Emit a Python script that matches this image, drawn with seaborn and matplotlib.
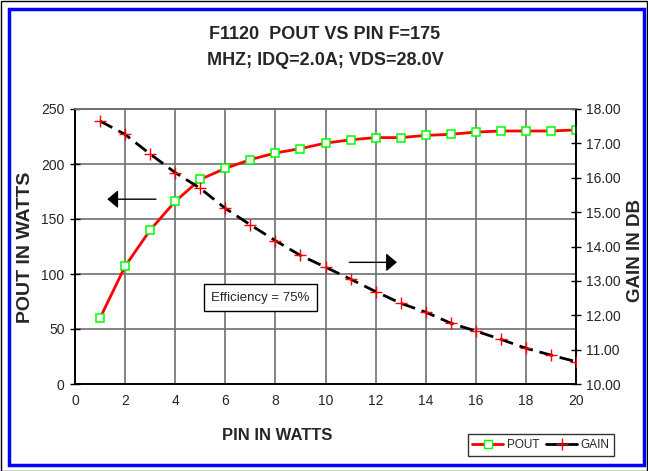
import matplotlib
matplotlib.use("Agg")
import matplotlib.pyplot as plt
from matplotlib.patches import Rectangle
from matplotlib.lines import Line2D
import seaborn as sns
import pandas as pd

# ---- data ----
pin = [1, 2, 3, 4, 5, 6, 7, 8, 9, 10, 11, 12, 13, 14, 15, 16, 17, 18, 19, 20]
pout = [60, 107, 140, 166, 186, 196, 204, 210, 214, 219, 222, 224, 224, 226,
        227, 229, 230, 230, 230, 231]
gain = [17.65, 17.26, 16.69, 16.15, 15.69, 15.11, 14.63, 14.17, 13.74, 13.40,
        13.05, 12.69, 12.35, 12.09, 11.77, 11.54, 11.30, 11.04, 10.84, 10.65]
x_ticks = [0, 2, 4, 6, 8, 10, 12, 14, 16, 18, 20]
left_ticks = [0, 50, 100, 150, 200, 250]
right_ticks = [10, 11, 12, 13, 14, 15, 16, 17, 18]
title_text = "F1120  POUT VS PIN F=175\nMHZ; IDQ=2.0A; VDS=28.0V"
note_text = "Efficiency = 75%"

df = pd.DataFrame({"PIN": pin, "POUT": pout, "GAIN": gain})

sns.set_style("white")
plt.rcParams["font.family"] = ["Liberation Sans", "DejaVu Sans"]

W, H = 648, 471
fig = plt.figure(figsize=(W / 100, H / 100), dpi=100)
ax = fig.add_axes([75 / W, 1 - 384 / H, 501 / W, 275 / H])
ax2 = ax.twinx()

# borders
fig.patches.append(Rectangle((0.5 / W, 0.5 / H), 1 - 1.5 / W, 1 - 1.5 / H,
                             transform=fig.transFigure, fill=False,
                             ec="black", lw=1, zorder=0))
fig.patches.append(Rectangle((8.5 / W, 1 - 464.5 / H), (643.5 - 8.5) / W, (464.5 - 8.5) / H,
                             transform=fig.transFigure, fill=False,
                             ec="#0000FF", lw=2.5, zorder=0))

# series
sns.lineplot(data=df, x="PIN", y="POUT", ax=ax, color="#FF0000", lw=2,
             marker="s", markersize=6, markerfacecolor="white",
             markeredgecolor="#00FF00", markeredgewidth=1.1, zorder=4)
sns.lineplot(data=df, x="PIN", y="GAIN", ax=ax2, color="black", lw=2,
             linestyle=(0, (5, 2.5)), marker="+", markersize=8,
             markeredgecolor="#FF0000", markeredgewidth=1.0, zorder=4)

ax.set_xlim(0, 20)
ax.set_ylim(0, 250)
ax2.set_ylim(10, 18)
ax.set_xticks(x_ticks)
ax.set_yticks(left_ticks)
ax2.set_yticks(right_ticks)
ax2.set_yticklabels([f"{v:.2f}" for v in right_ticks])

ax.grid(True, color="#707070", lw=1.2)
ax.set_axisbelow(True)
ax2.grid(False)
for a in (ax, ax2):
    for s in a.spines.values():
        s.set_color("black")
        s.set_linewidth(1.2)
    a.spines["top"].set_color("#707070")
ax.tick_params(axis="both", direction="inout", length=7, width=1,
               labelsize=10, color="black", pad=4)
ax2.tick_params(axis="y", direction="inout", length=7, width=1,
                labelsize=10, color="black", pad=4)

ax.set_xlabel("")
ax.set_ylabel("")
ax2.set_ylabel("")
fig.text(277 / W, 1 - 435 / H, "PIN IN WATTS", ha="center", va="center",
         fontsize=12, fontweight="bold")
fig.text(26 / W, 1 - 247 / H, "POUT IN WATTS", ha="center", va="center",
         rotation=90, fontsize=14, fontweight="bold")
fig.text(635 / W, 1 - 250 / H, "GAIN IN DB", ha="center", va="center",
         rotation=90, fontsize=13.5, fontweight="bold")
fig.text(325 / W, 1 - 47.5 / H, title_text, ha="center", va="center",
         fontsize=13, fontweight="bold", linespacing=1.75)

# arrows
ax.annotate("", xy=(1.29, 168), xytext=(3.23, 168),
            arrowprops=dict(arrowstyle="-|>,head_length=0.65,head_width=0.55",
                            color="black", lw=1, shrinkA=0, shrinkB=0))
ax.annotate("", xy=(12.85, 110.6), xytext=(10.95, 110.6),
            arrowprops=dict(arrowstyle="-|>,head_length=0.65,head_width=0.55",
                            color="black", lw=1, shrinkA=0, shrinkB=0))

ax.text(7.4, 78.6, note_text, ha="center", va="center", fontsize=9.5, zorder=6,
        bbox=dict(boxstyle="square,pad=0.55", fc="white", ec="black", lw=1))

handles = [
    Line2D([], [], color="#FF0000", lw=2, marker="s", markersize=6,
           markerfacecolor="white", markeredgecolor="#00FF00"),
    Line2D([], [], color="black", lw=2, marker="+", markersize=8,
           markeredgecolor="#FF0000"),
]
leg = fig.legend(handles, ["POUT", "GAIN"], loc="center",
                 bbox_to_anchor=(541 / W, 1 - 445 / H), ncol=2, fontsize=8.5,
                 frameon=True, fancybox=False, edgecolor="black",
                 handlelength=2.6, handletextpad=0.3, columnspacing=0.6,
                 borderpad=0.4)
leg.get_frame().set_linewidth(1)

fig.savefig("out.png", dpi=100)
